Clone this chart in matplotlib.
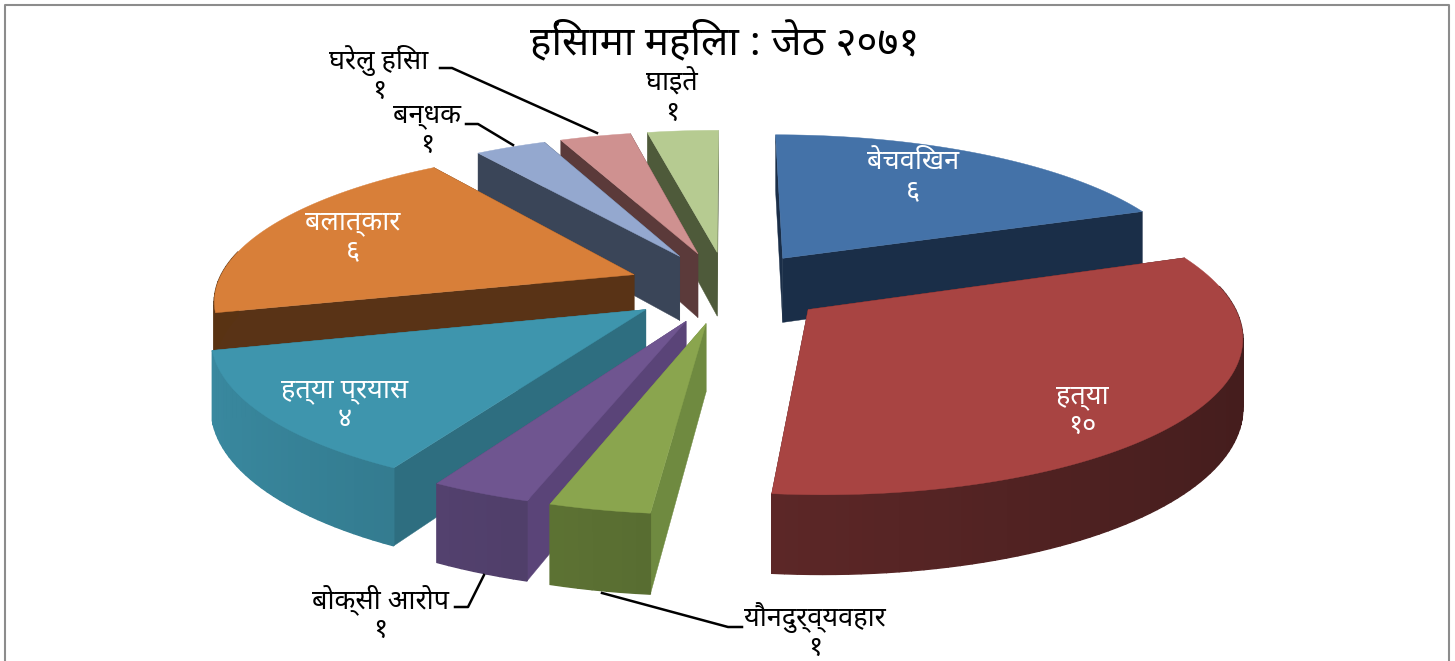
import matplotlib
matplotlib.use("Agg")
import matplotlib.pyplot as plt
import numpy as np

plt.rcParams['font.family'] = ['Noto Sans Devanagari', 'DejaVu Sans']

# data, clockwise from the top
categories = ["बेचविखन", "हत्या", "यौनदुर्व्यवहार", "बोक्सी आरोप", "हत्या प्रयास",
              "बलात्कार", "बन्धक", "घरेलु हिंसा", "घाइते"]
values = [6, 10, 1, 1, 4, 6, 1, 1, 1]
title = "हिंसामा महिला : जेठ २०७१"

top_colors = ["#4472a8", "#a84442", "#8aa54e", "#6f5590", "#3e95ad",
              "#d87f39", "#94a8cf", "#cf9190", "#b6cb91"]
rim_colors = ["#1a2e48", "#5a2626", "#566a30", "#4a3a62", "#2e6e80",
              "#47290f", "#3a4558", "#5b3a3a", "#4e5a3a"]
wall_colors = ["#1a2e48", "#47191a", "#6f8a40", "#5a4478", "#2e6e80",
               "#593316", "#3a4558", "#5b3a3a", "#4e5a3a"]

# label x, y in pixels, white text goes on the slice
label_pos = [(913, 177), (1082, 411), (815, 632), (380, 614), (345, 405),
             (353, 237), (427, 130), (379, 75), (672, 98)]
label_color = ["white", "white", "black", "black", "white",
               "white", "black", "black", "black"]
leaders = {2: [(602, 593), (728, 627), (742, 627)],
           3: [(484, 575), (468, 607), (455, 607)],
           6: [(513, 145), (478, 124), (466, 124)],
           7: [(597, 133), (452, 68), (440, 68)]}

# fake camera for the 3d pie
CX, CY = 727, 287
SX, SY = 418, 150
PERSP = 0.15
HEIGHT = 66
EXPLODE = 0.24


def project(x, y, z=0.0):
    f = 1.0 / (1.0 + PERSP * y)
    return CX + SX * x * f, CY - SY * y * f - HEIGHT * f * z


def shade(color, amount):
    rgb = np.array(matplotlib.colors.to_rgb(color))
    return tuple(np.clip(rgb * amount, 0, 1))


fig = plt.figure(figsize=(14.55, 6.61), dpi=100)
ax = fig.add_axes([0, 0, 1, 1])
ax.set_xlim(0, 1455)
ax.set_ylim(661, 0)
ax.axis("off")

# grey frame around the chart
ax.plot([5, 5, 1449, 1449], [661, 5, 5, 661], color="#8c8c8c", lw=1.5)

edges = np.cumsum([0] + values) / sum(values) * 2 * np.pi
slices = []
for i in range(len(values)):
    a0, a1 = edges[i], edges[i + 1]
    mid = (a0 + a1) / 2
    ox, oy = EXPLODE * np.sin(mid), EXPLODE * np.cos(mid)
    slices.append((oy + 0.5 * np.cos(mid), i, a0, a1, ox, oy))

# back slices first
for depth, i, a0, a1, ox, oy in sorted(slices, reverse=True):
    t = np.linspace(a0, a1, max(6, int((a1 - a0) * 40)))
    xs = ox + np.sin(t)
    ys = oy + np.cos(t)
    zo = 5 - depth

    # the two flat cut faces, far one first
    for a in sorted([a0, a1], key=lambda v: -np.cos(v)):
        ex, ey = ox + np.sin(a), oy + np.cos(a)
        pts = [project(ox, oy, 0), project(ex, ey, 0), project(ex, ey, -1), project(ox, oy, -1)]
        ax.fill(*zip(*pts), color=wall_colors[i], lw=0.3, zorder=zo)

    # outer wall, cut into strips so it can fade
    for j in range(len(t) - 1):
        tm = (t[j] + t[j + 1]) / 2
        if np.cos(tm) > 0.15:
            continue
        pts = [project(xs[j], ys[j], 0), project(xs[j + 1], ys[j + 1], 0),
               project(xs[j + 1], ys[j + 1], -1), project(xs[j], ys[j], -1)]
        ax.fill(*zip(*pts), color=shade(rim_colors[i], 1 - 0.25 * np.sin(tm)), lw=1.0, zorder=zo)

    top = [project(ox, oy, 0)] + [project(x, y, 0) for x, y in zip(xs, ys)]
    ax.fill(*zip(*top), color=top_colors[i], lw=0.3, zorder=zo)

ax.text(725, 44, title, ha="center", va="center", fontsize=29, color="black", zorder=20)

to_deva = str.maketrans("0123456789", "०१२३४५६७८९")
for i, name in enumerate(categories):
    x, y = label_pos[i]
    ax.text(x, y, name + "\n" + str(values[i]).translate(to_deva), ha="center", va="center",
            fontsize=19.5, color=label_color[i], linespacing=1.05, zorder=20)

for pts in leaders.values():
    ax.plot(*zip(*pts), color="black", lw=1.8, zorder=15)

fig.savefig("out.png", dpi=100)
